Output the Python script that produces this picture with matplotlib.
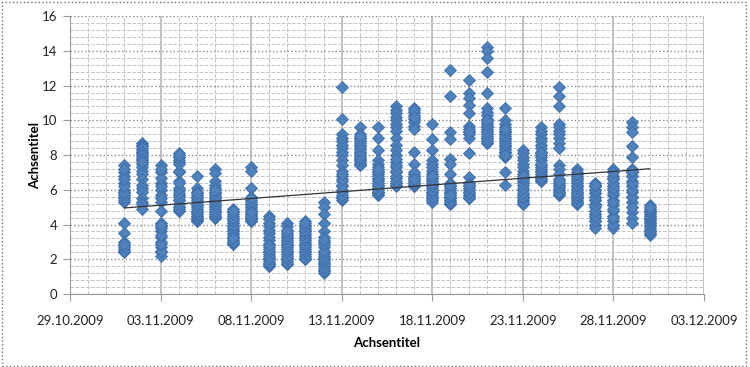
import matplotlib
matplotlib.use('Agg')
import matplotlib.pyplot as plt
import matplotlib.dates as mdates
from matplotlib.patches import Rectangle
from matplotlib.ticker import FixedLocator, MultipleLocator
import numpy as np
import pandas as pd

plt.rcParams['font.family'] = ['Lato', 'DejaVu Sans']

# 24 readings per day (01.11.2009 - 30.11.2009), many overlap in the picture
days = pd.date_range('2009-11-01', '2009-11-30', freq='D')
values = [
    [7.4, 7.0, 6.8, 6.4, 6.0, 5.9, 5.7, 5.5, 5.3, 4.1, 3.5, 3.0, 2.8, 2.6, 2.4,
     5.4, 5.6, 5.8, 6.2, 6.6, 7.2, 2.5, 2.7, 2.9],
    [8.7, 8.6, 8.5, 8.3, 8.1, 7.9, 7.7, 7.5, 7.3, 7.1, 6.9, 6.6, 6.3, 6.1, 5.9, 5.5, 5.3, 5.2, 4.9,
     8.4, 8.2, 8.0, 7.8, 7.6],
    [7.4, 7.0, 6.4, 6.0, 5.7, 5.3, 4.8, 4.1, 3.9, 3.6, 3.3, 3.0, 2.7, 2.4, 2.2,
     2.5, 2.9, 3.4, 3.8, 4.0, 5.5, 6.2, 6.7, 7.2],
    [8.1, 7.9, 7.6, 7.0, 6.5, 6.0, 5.7, 5.4, 5.0, 4.8,
     4.8, 4.9, 5.0, 5.2, 5.4, 5.6, 5.8, 6.1, 6.4, 7.1, 7.5, 7.7, 7.9, 8.0],
    [6.8, 6.1, 5.9, 5.7, 5.5, 5.3, 5.1, 4.9, 4.7, 4.5, 4.3, 4.2,
     4.2, 4.3, 4.4, 4.5, 4.6, 4.7, 4.8, 5.0, 5.2, 5.4, 5.6, 5.8],
    [7.2, 6.95, 6.5, 6.3, 6.1, 5.9, 5.7, 5.5, 5.3, 5.1, 4.9, 4.7, 4.5, 4.4,
     4.4, 4.5, 4.6, 4.8, 5.0, 5.2, 5.4, 5.6, 5.8, 6.0],
    [4.9, 4.7, 4.5, 4.3, 4.1, 3.9, 3.7, 3.5, 3.3, 3.1, 2.9,
     2.9, 3.0, 3.0, 3.2, 3.4, 3.6, 3.8, 4.0, 4.2, 4.4, 4.6, 4.8, 3.2],
    [7.3, 7.1, 6.1, 5.6, 5.4, 5.2, 5.0, 4.8, 4.6, 4.4, 4.2,
     4.2, 4.3, 4.4, 4.5, 4.6, 4.7, 4.9, 5.1, 5.3, 5.5, 4.3, 4.5, 4.7],
    [4.5, 4.3, 4.1, 3.9, 3.7, 3.5, 3.3, 3.1, 2.9, 2.7, 2.5, 2.3, 2.1, 1.9, 1.7, 1.6,
     1.6, 1.7, 1.8, 2.0, 2.2, 2.4, 2.6, 2.8],
    [4.1, 3.9, 3.7, 3.5, 3.3, 3.1, 2.9, 2.7, 2.5, 2.3, 2.1, 1.9, 1.7,
     1.7, 1.8, 2.0, 2.2, 2.4, 2.6, 2.8, 3.0, 3.2, 3.4, 3.6],
    [4.2, 4.0, 3.8, 3.6, 3.4, 3.2, 3.0, 2.8, 2.6, 2.4, 2.2, 2.0,
     2.0, 2.1, 2.3, 2.5, 2.7, 2.9, 3.1, 3.3, 3.5, 3.7, 3.9, 4.1],
    [5.3, 5.0, 4.6, 4.1, 3.6, 3.3, 3.0, 2.7, 2.4, 2.2, 2.0, 1.8, 1.6, 1.4, 1.2,
     1.3, 1.5, 1.7, 1.9, 2.1, 2.3, 2.5, 2.9, 3.1],
    [11.9, 10.1, 9.2, 9.0, 8.8, 8.6, 8.4, 8.2, 8.0, 7.7, 7.4, 7.1, 6.8, 6.5, 6.2, 5.9, 5.6, 5.4,
     5.5, 5.7, 6.0, 6.3, 6.6, 6.9],
    [9.6, 9.2, 9.0, 8.8, 8.6, 8.4, 8.2, 8.0, 7.8, 7.6, 7.4,
     7.4, 7.5, 7.5, 7.7, 7.7, 7.9, 7.9, 8.1, 8.3, 8.5, 8.7, 8.9, 9.1],
    [9.6, 9.0, 8.3, 7.7, 7.5, 7.3, 7.1, 6.9, 6.7, 6.5, 6.3, 6.1, 5.9, 5.7,
     5.7, 5.8, 5.9, 6.0, 6.2, 6.4, 6.6, 6.8, 7.0, 7.2],
    [10.8, 10.6, 10.4, 10.2, 10.0, 9.8, 9.6, 9.4, 9.0, 8.6, 8.3, 8.0, 7.6, 7.3, 7.0, 6.7, 6.4, 6.2,
     6.3, 6.5, 6.8, 7.1, 7.4, 7.8],
    [10.7, 10.5, 10.3, 10.1, 9.9, 9.7, 9.5, 8.2, 7.5, 6.9, 6.7, 6.5, 6.3, 6.2,
     6.2, 6.3, 6.4, 6.6, 6.8, 7.0, 6.4, 6.6, 10.6, 10.2],
    [9.8, 8.9, 8.3, 7.7, 7.5, 7.3, 7.1, 6.9, 6.7, 6.5, 6.3, 6.1, 5.9, 5.7, 5.5, 5.3,
     5.4, 5.6, 5.8, 6.0, 6.2, 6.4, 6.6, 6.8],
    [12.9, 11.4, 9.35, 8.9, 7.8, 7.5, 6.9, 6.4, 6.2, 6.0, 5.8, 5.6, 5.4, 5.2,
     5.2, 5.3, 5.5, 5.7, 5.9, 6.1, 6.3, 5.3, 5.5, 5.7],
    [12.3, 11.6, 11.3, 10.9, 10.4, 9.7, 9.5, 9.3, 9.0, 8.1, 6.75, 6.4, 6.2, 6.0, 5.7, 5.5,
     5.5, 5.6, 5.8, 5.9, 6.1, 6.3, 9.2, 9.4],
    [14.2, 14.0, 13.6, 12.8, 11.6, 10.7, 10.5, 10.3, 10.1, 9.9, 9.7, 9.5, 9.3, 9.1, 8.9, 8.7,
     8.7, 8.8, 9.0, 9.2, 9.4, 9.6, 9.8, 10.0],
    [10.7, 10.0, 9.8, 9.6, 9.4, 9.2, 9.0, 8.8, 8.6, 8.4, 8.2, 7.9, 7.0, 6.3,
     8.1, 8.3, 8.5, 8.7, 8.9, 9.1, 9.3, 9.5, 7.95, 8.0],
    [8.3, 8.1, 7.9, 7.7, 7.5, 7.3, 7.1, 6.9, 6.7, 6.5, 6.3, 6.0, 5.7, 5.4, 5.2,
     5.2, 5.3, 5.5, 5.6, 5.8, 6.1, 6.4, 6.6, 6.8],
    [9.6, 9.4, 9.2, 9.0, 8.8, 8.6, 8.4, 8.2, 8.0, 7.7, 7.4, 7.1, 6.8, 6.5,
     6.5, 6.6, 6.7, 6.9, 7.0, 7.2, 7.3, 7.5, 7.9, 8.1],
    [11.9, 11.4, 10.8, 9.8, 9.6, 9.4, 9.2, 9.0, 8.7, 8.4, 7.4, 7.2, 6.9, 6.6, 6.3, 6.0, 5.7,
     5.7, 5.8, 5.9, 6.1, 6.2, 6.4, 6.5],
    [7.2, 7.0, 6.8, 6.6, 6.4, 6.2, 6.0, 5.8, 5.6, 5.4, 5.2,
     5.2, 5.3, 5.3, 5.5, 5.5, 5.7, 5.7, 5.9, 6.1, 6.3, 6.5, 6.7, 6.9],
    [6.4, 6.2, 6.0, 5.8, 5.6, 5.4, 5.2, 5.0, 4.8, 4.6, 4.4, 4.2, 4.0, 3.8,
     4.2, 4.5, 4.8, 5.1, 5.4, 5.6, 5.8, 6.0, 6.2, 6.3],
    [7.2, 7.0, 6.8, 6.6, 6.4, 6.2, 6.0, 5.7, 5.4, 5.1, 4.8, 4.5, 4.2, 4.0, 3.8,
     4.0, 4.4, 4.9, 5.3, 5.8, 6.1, 6.4, 6.7, 7.0],
    [9.9, 9.6, 9.3, 8.5, 7.9, 7.2, 7.0, 6.8, 6.5, 6.2, 5.9, 5.6, 5.3, 5.0, 4.7, 4.4, 4.1,
     5.0, 5.6, 6.0, 6.4, 6.8, 7.0, 7.1],
    [5.1, 4.9, 4.7, 4.5, 4.3, 4.1, 3.9, 3.7, 3.5, 3.4,
     3.5, 3.6, 3.8, 4.0, 4.1, 4.2, 4.3, 4.4, 4.5, 4.6, 4.7, 4.8, 4.9, 5.0],
]

x_start = mdates.date2num(pd.Timestamp('2009-10-29'))
x_end = mdates.date2num(pd.Timestamp('2009-12-03'))

xs = np.concatenate([[mdates.date2num(d)] * len(v) for d, v in zip(days, values)])
ys = np.concatenate(values)

fig = plt.figure(figsize=(7.5, 3.67), dpi=100)
ax = fig.add_axes([0.0933, 0.199, 0.8454, 0.757])

# grid like Excel: minor every day / 0.4, major every 5 days / 2
ax.set_axisbelow(True)
ax.grid(which='minor', color='#c4c4c4', linestyle='--', linewidth=0.7)
ax.grid(which='major', axis='y', color='#8a8a8a', linestyle=':', linewidth=1.0)
ax.grid(which='major', axis='x', color='#b8b8b8', linestyle='-', linewidth=1.2)

ax.plot(xs, ys, linestyle='none', marker='D', markersize=5.8,
        markerfacecolor='#4F81BD', markeredgecolor='#3C6DAA', markeredgewidth=0.6)

# linear trend line
dnum = mdates.date2num(days)
k, d = np.polyfit(xs, ys, 1)
ax.plot([dnum[0], dnum[-1]], [k * dnum[0] + d, k * dnum[-1] + d],
        color='#333333', linewidth=0.9)

ax.set_xlim(x_start, x_end)
ax.set_ylim(0, 16)
ax.xaxis.set_major_locator(FixedLocator(np.arange(x_start, x_end + 1, 5)))
ax.xaxis.set_minor_locator(FixedLocator(np.arange(x_start, x_end + 1, 1)))
ax.xaxis.set_major_formatter(mdates.DateFormatter('%d.%m.%Y'))
ax.yaxis.set_major_locator(MultipleLocator(2))
ax.yaxis.set_minor_locator(MultipleLocator(0.4))

for side in ['top', 'right']:
    ax.spines[side].set_visible(False)
for side in ['left', 'bottom']:
    ax.spines[side].set_color('#9a9a9a')
ax.tick_params(which='major', length=5, color='#9a9a9a', labelsize=9.5,
               labelcolor='#222222', pad=4)
ax.tick_params(which='minor', length=0)
ax.tick_params(axis='x', pad=10)

ax.set_xlabel('Achsentitel', fontsize=9.5, fontweight='bold', labelpad=7)
ax.set_ylabel('Achsentitel', fontsize=9.5, fontweight='bold', labelpad=1)

fig.patches.append(Rectangle((0.002, 0.004), 0.993, 0.99, transform=fig.transFigure,
                             fill=False, linestyle=':', edgecolor='#707070', linewidth=1))

fig.savefig('out.png', dpi=100)
